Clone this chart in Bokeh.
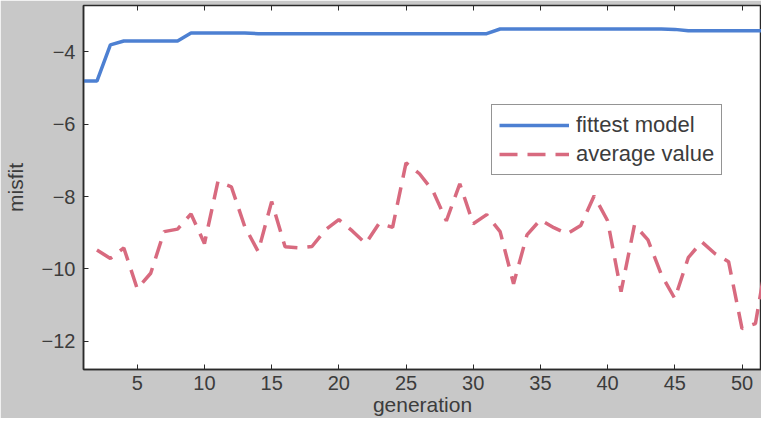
from bokeh.plotting import figure
from bokeh.models import Range1d, FixedTicker, LinearAxis, Legend, LegendItem
from bokeh.embed import file_html
from bokeh.resources import INLINE

# ---- data ----
generations = list(range(1, 53))
fittest_model = [-4.81, -4.81, -3.81, -3.70, -3.70, -3.70, -3.70, -3.70, -3.48, -3.48,
                 -3.48, -3.48, -3.48, -3.50, -3.50, -3.50, -3.50, -3.50, -3.50, -3.50,
                 -3.50, -3.50, -3.50, -3.50, -3.50, -3.50, -3.50, -3.50, -3.50, -3.50,
                 -3.50, -3.37, -3.37, -3.37, -3.37, -3.37, -3.37, -3.37, -3.37, -3.37,
                 -3.37, -3.37, -3.37, -3.37, -3.38, -3.42, -3.42, -3.42, -3.42, -3.42,
                 -3.42, -3.42]
avg_generations = list(range(2, 53))
average_value = [-9.48, -9.71, -9.42, -10.55, -10.12, -8.97, -8.90, -8.48, -9.30, -7.59,
                 -7.73, -8.83, -9.52, -8.14, -9.39, -9.42, -9.38, -8.92, -8.64, -8.95,
                 -9.30, -8.74, -8.85, -7.07, -7.37, -7.84, -8.67, -7.65, -8.75, -8.50,
                 -8.97, -10.41, -9.06, -8.64, -8.86, -9.03, -8.80, -7.98, -8.67, -10.63,
                 -8.78, -9.20, -10.16, -10.82, -9.69, -9.25, -9.58, -9.80, -11.65, -11.51,
                 -9.35]
x_ticks = [5, 10, 15, 20, 25, 30, 35, 40, 45, 50]
y_ticks = [-12, -10, -8, -6, -4]

FONT = "Liberation Sans"
TXT = "#3c3c3c"
BLUE = "#4d80d2"
RED = "#d86a7f"

p = figure(width=761, height=418, output_backend="svg", toolbar_location=None,
           x_range=Range1d(1, 51.45), y_range=Range1d(-12.78, -2.72),
           min_border_left=77, min_border_top=5, min_border_right=0,
           min_border_bottom=49)

p.background_fill_color = "#ffffff"
p.border_fill_color = "#c8c8c8"
p.outline_line_color = "#2a2a2a"
p.outline_line_width = 1.5
p.xgrid.visible = False
p.ygrid.visible = False

r_fit = p.line(generations, fittest_model, line_color=BLUE, line_width=3.5)
r_avg = p.line(avg_generations, average_value, line_color=RED, line_width=3.5,
               line_dash="18 10")

for ax in (p.xaxis[0], p.yaxis[0]):
    ax.major_tick_in = 5
    ax.major_tick_out = 0
    ax.minor_tick_line_color = None
    ax.axis_line_color = "#2a2a2a"
    ax.axis_line_width = 1.5
    ax.major_tick_line_color = "#2a2a2a"
    ax.major_label_text_font = FONT
    ax.major_label_text_font_size = "20px"
    ax.major_label_text_color = TXT
    ax.axis_label_text_font = FONT
    ax.axis_label_text_font_size = "21px"
    ax.axis_label_text_font_style = "normal"
    ax.axis_label_text_color = TXT

p.xaxis[0].ticker = FixedTicker(ticks=x_ticks)
p.yaxis[0].ticker = FixedTicker(ticks=y_ticks)
p.xaxis[0].axis_label = "generation"
p.yaxis[0].axis_label = "misfit"
p.xaxis[0].major_label_standoff = 6
p.xaxis[0].axis_label_standoff = 0
p.yaxis[0].major_label_standoff = 8
p.yaxis[0].axis_label_standoff = 12

top = LinearAxis(ticker=FixedTicker(ticks=x_ticks))
top.major_tick_in = 5
top.major_tick_out = 0
top.minor_tick_line_color = None
top.major_label_text_font_size = "1px"
top.major_label_text_color = None
top.major_label_standoff = 0
top.axis_line_color = "#2a2a2a"
top.major_tick_line_color = "#2a2a2a"
p.add_layout(top, "above")

legend = Legend(items=[LegendItem(label="fittest model", renderers=[r_fit]),
                       LegendItem(label="average value", renderers=[r_avg])],
                location=(408, 194))
legend.label_text_font = FONT
legend.label_text_font_size = "22px"
legend.label_text_color = TXT
legend.glyph_width = 70
legend.glyph_height = 24
legend.label_height = 24
legend.label_standoff = 7
legend.spacing = 3
legend.padding = 7
legend.margin = 0
legend.border_line_color = "#2a2a2a"
legend.border_line_width = 1.2
legend.background_fill_color = "#ffffff"
legend.background_fill_alpha = 1.0
p.add_layout(legend, "center")

open("out.html", "w").write(file_html(p, INLINE))
